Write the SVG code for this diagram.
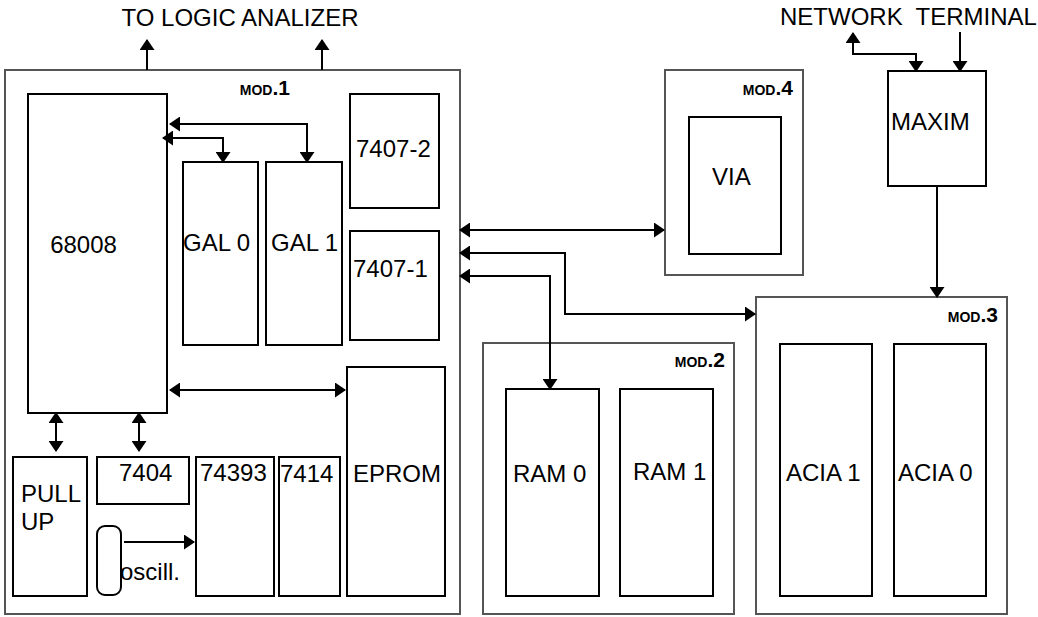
<svg xmlns="http://www.w3.org/2000/svg" width="1038" height="617" viewBox="0 0 1038 617">
<style>
.mod{fill:none;stroke:#555;stroke-width:2}
.box{fill:#fff;stroke:#000;stroke-width:2}
.t{font-family:"Liberation Sans",Arial,sans-serif;font-size:24px;fill:#000}
.ml{font-family:"Liberation Sans",Arial,sans-serif;font-weight:bold;fill:#000;text-anchor:end}
.sc{font-size:14px}
.num{font-size:21px}
.c{fill:none;stroke:#000;stroke-width:2}
</style>
<defs>
<marker id="ah" markerUnits="userSpaceOnUse" markerWidth="11" markerHeight="15" refX="10" refY="7.5" orient="auto-start-reverse" viewBox="0 0 11 15">
<path d="M0,0 L11,7.5 L0,15 z" fill="#000"/>
</marker>
</defs>
<rect width="1038" height="617" fill="#fff"/>
<text class="t" x="240" y="26" text-anchor="middle">TO LOGIC ANALIZER</text>
<text class="t" x="780" y="25" xml:space="preserve">NETWORK  TERMINAL</text>
<g id="mod1">
<rect class="mod" x="5" y="70" width="455" height="544"/>
<text class="ml" x="290" y="95"><tspan class="sc">MOD</tspan><tspan class="num">.1</tspan></text>
</g>
<g id="mod4">
<rect class="mod" x="665" y="70" width="138" height="205"/>
<text class="ml" x="793" y="95"><tspan class="sc">MOD</tspan><tspan class="num">.4</tspan></text>
</g>
<g id="mod2">
<rect class="mod" x="483" y="343" width="251" height="271"/>
<text class="ml" x="725" y="367"><tspan class="sc">MOD</tspan><tspan class="num">.2</tspan></text>
</g>
<g id="mod3">
<rect class="mod" x="756" y="297" width="251" height="317"/>
<text class="ml" x="998" y="322"><tspan class="sc">MOD</tspan><tspan class="num">.3</tspan></text>
</g>
<g id="cpu"><rect class="box" x="28" y="94" width="139" height="319"/><text class="t" x="83.5" y="253" text-anchor="middle">68008</text></g>
<g id="gal0"><rect class="box" x="183" y="162" width="75" height="183"/><text class="t" x="183" y="251">GAL 0</text></g>
<g id="gal1"><rect class="box" x="266" y="162" width="76" height="183"/><text class="t" x="271" y="251">GAL 1</text></g>
<g id="b7407-2"><rect class="box" x="350" y="94" width="89" height="114"/><text class="t" x="356" y="157">7407-2</text></g>
<g id="b7407-1"><rect class="box" x="350" y="231" width="89" height="109"/><text class="t" x="353" y="277">7407-1</text></g>
<g id="eprom"><rect class="box" x="347" y="367" width="98" height="229"/><text class="t" x="353" y="482">EPROM</text></g>
<g id="pullup"><rect class="box" x="13" y="457" width="74" height="139"/><text class="t" x="21" y="502">PULL</text><text class="t" x="21" y="530">UP</text></g>
<g id="b7404"><rect class="box" x="97" y="457" width="92" height="47"/><text class="t" x="119" y="481">7404</text></g>
<g id="b74393"><rect class="box" x="196" y="457" width="78" height="139"/><text class="t" x="200" y="481">74393</text></g>
<g id="b7414"><rect class="box" x="279" y="457" width="61" height="139"/><text class="t" x="280" y="482">7414</text></g>
<g id="oscill"><rect class="box" x="97" y="526" width="24" height="69" rx="8"/><text class="t" x="120" y="580">oscill.</text></g>
<g id="via"><rect class="box" x="689" y="117" width="92" height="137"/><text class="t" x="712" y="185">VIA</text></g>
<g id="maxim"><rect class="box" x="888" y="71" width="98" height="115"/><text class="t" x="891" y="130">MAXIM</text></g>
<g id="ram0"><rect class="box" x="506" y="389" width="93" height="207"/><text class="t" x="513" y="482">RAM 0</text></g>
<g id="ram1"><rect class="box" x="620" y="389" width="93" height="207"/><text class="t" x="633" y="480">RAM 1</text></g>
<g id="acia1"><rect class="box" x="780" y="344" width="92" height="252"/><text class="t" x="786" y="481">ACIA 1</text></g>
<g id="acia0"><rect class="box" x="894" y="344" width="92" height="252"/><text class="t" x="898" y="481">ACIA 0</text></g>
<g id="connectors">
<path class="c" d="M147,70 V40" marker-end="url(#ah)"/>
<path class="c" d="M322,70 V40" marker-end="url(#ah)"/>
<path class="c" d="M170,124 H307 V162" marker-start="url(#ah)" marker-end="url(#ah)"/>
<path class="c" d="M163,138 H223 V162" marker-start="url(#ah)" marker-end="url(#ah)"/>
<path class="c" d="M170,390 H345" marker-start="url(#ah)" marker-end="url(#ah)"/>
<path class="c" d="M56,413 V451" marker-start="url(#ah)" marker-end="url(#ah)"/>
<path class="c" d="M139,413 V451" marker-start="url(#ah)" marker-end="url(#ah)"/>
<path class="c" d="M124,542 H194" marker-end="url(#ah)"/>
<path class="c" d="M460,230 H664" marker-start="url(#ah)" marker-end="url(#ah)"/>
<path class="c" d="M460,253 H565 V314 H755" marker-start="url(#ah)" marker-end="url(#ah)"/>
<path class="c" d="M460,276 H550 V389" marker-start="url(#ah)" marker-end="url(#ah)"/>
<path class="c" d="M916,71 V54 H853 V33" marker-start="url(#ah)" marker-end="url(#ah)"/>
<path class="c" d="M960,32 V71" marker-end="url(#ah)"/>
<path class="c" d="M937,186 V297" marker-end="url(#ah)"/>
</g>
</svg>
